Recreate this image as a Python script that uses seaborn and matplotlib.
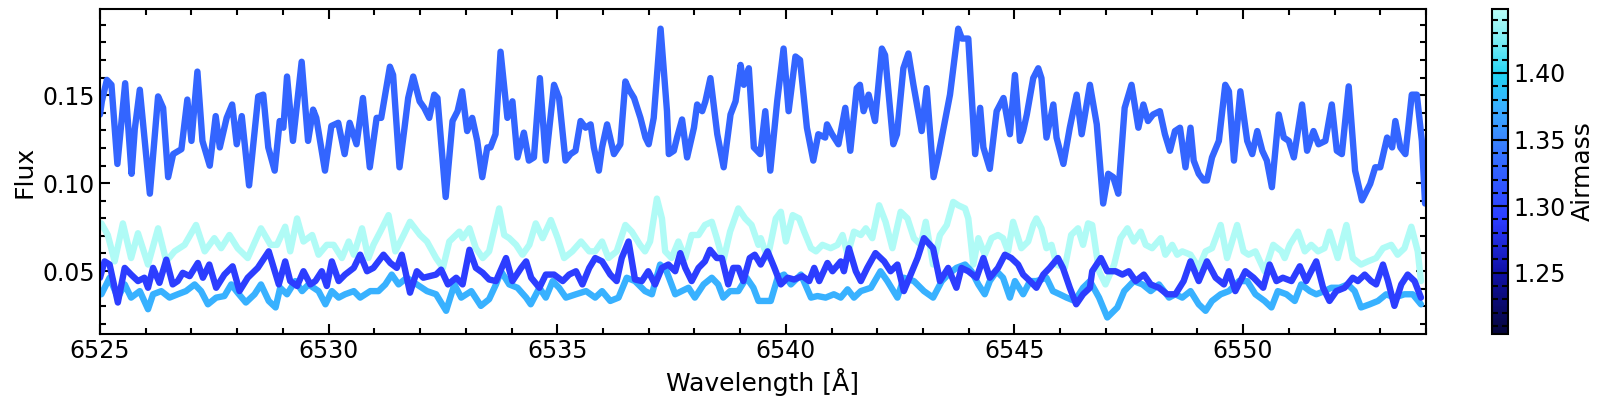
import numpy as np
import pandas as pd
import seaborn as sns
import matplotlib
matplotlib.use("Agg")
import matplotlib.pyplot as plt
from matplotlib.colors import LinearSegmentedColormap, Normalize
from matplotlib.cm import ScalarMappable
from matplotlib.ticker import MultipleLocator

# spectra (wavelength [A], flux)
# bright spectrum, airmass ~1.33
wl_top = [6525.00, 6525.04, 6525.15, 6525.25, 6525.38, 6525.55, 6525.69, 6525.76, 6525.87, 6526.09,
          6526.27, 6526.38, 6526.49, 6526.60, 6526.78, 6526.91, 6527.00, 6527.13, 6527.24, 6527.40,
          6527.53, 6527.62, 6527.77, 6527.89, 6527.99, 6528.10, 6528.26, 6528.46, 6528.57, 6528.68,
          6528.82, 6528.93, 6529.01, 6529.09, 6529.22, 6529.41, 6529.55, 6529.66, 6529.73, 6529.92,
          6530.06, 6530.21, 6530.35, 6530.46, 6530.61, 6530.75, 6530.90, 6531.05, 6531.15, 6531.34,
          6531.41, 6531.55, 6531.66, 6531.74, 6531.85, 6531.99, 6532.09, 6532.20, 6532.31, 6532.38,
          6532.56, 6532.71, 6532.82, 6532.92, 6533.03, 6533.14, 6533.25, 6533.36, 6533.47, 6533.54,
          6533.65, 6533.76, 6533.91, 6534.02, 6534.13, 6534.27, 6534.38, 6534.49, 6534.62, 6534.75,
          6534.93, 6535.04, 6535.18, 6535.29, 6535.40, 6535.51, 6535.62, 6535.73, 6535.80, 6535.91,
          6535.98, 6536.09, 6536.24, 6536.38, 6536.49, 6536.57, 6536.68, 6536.82, 6536.93, 6537.00,
          6537.11, 6537.26, 6537.40, 6537.44, 6537.55, 6537.62, 6537.73, 6537.84, 6537.99, 6538.06,
          6538.17, 6538.24, 6538.35, 6538.50, 6538.64, 6538.79, 6538.90, 6539.01, 6539.08, 6539.19,
          6539.30, 6539.44, 6539.55, 6539.66, 6539.81, 6539.95, 6540.06, 6540.21, 6540.31, 6540.46,
          6540.60, 6540.71, 6540.86, 6540.90, 6541.01, 6541.15, 6541.30, 6541.41, 6541.55, 6541.62,
          6541.70, 6541.81, 6541.95, 6542.10, 6542.17, 6542.35, 6542.43, 6542.57, 6542.68, 6542.79,
          6542.97, 6543.08, 6543.23, 6543.34, 6543.45, 6543.59, 6543.77, 6543.85, 6543.99, 6544.14,
          6544.25, 6544.32, 6544.46, 6544.61, 6544.76, 6544.90, 6545.01, 6545.12, 6545.19, 6545.27,
          6545.41, 6545.52, 6545.59, 6545.70, 6545.85, 6545.92, 6546.07, 6546.21, 6546.36, 6546.47,
          6546.65, 6546.80, 6546.94, 6547.05, 6547.16, 6547.27, 6547.41, 6547.56, 6547.71, 6547.82,
          6547.92, 6548.03, 6548.18, 6548.29, 6548.40, 6548.51, 6548.62, 6548.74, 6548.85, 6548.92,
          6549.03, 6549.14, 6549.21, 6549.32, 6549.47, 6549.61, 6549.69, 6549.80, 6549.94, 6550.09,
          6550.20, 6550.31, 6550.42, 6550.52, 6550.63, 6550.78, 6550.89, 6551.00, 6551.11, 6551.29,
          6551.40, 6551.54, 6551.65, 6551.80, 6551.94, 6552.05, 6552.16, 6552.31, 6552.45, 6552.60,
          6552.78, 6552.89, 6553.00, 6553.15, 6553.26, 6553.33, 6553.44, 6553.55, 6553.69, 6553.80,
          6553.91, 6553.98]
fl_top = [0.1390, 0.1465, 0.1587, 0.1559, 0.1109, 0.1568, 0.1053, 0.1306, 0.1531, 0.0940,
          0.1493, 0.1428, 0.1034, 0.1165, 0.1193, 0.1475, 0.1240, 0.1634, 0.1240, 0.1099,
          0.1381, 0.1203, 0.1371, 0.1447, 0.1221, 0.1381, 0.0987, 0.1493, 0.1503, 0.1203,
          0.1071, 0.1353, 0.1315, 0.1606, 0.1240, 0.1690, 0.1240, 0.1418, 0.1371, 0.1071,
          0.1325, 0.1343, 0.1165, 0.1343, 0.1221, 0.1484, 0.1090, 0.1371, 0.1371, 0.1662,
          0.1615, 0.1090, 0.1315, 0.1484, 0.1606, 0.1465, 0.1428, 0.1371, 0.1503, 0.1484,
          0.0921, 0.1353, 0.1409, 0.1522, 0.1296, 0.1371, 0.1240, 0.1034, 0.1203, 0.1203,
          0.1278, 0.1747, 0.1371, 0.1465, 0.1146, 0.1287, 0.1128, 0.1146, 0.1597, 0.1128,
          0.1559, 0.1484, 0.1128, 0.1165, 0.1184, 0.1353, 0.1315, 0.1334, 0.1203, 0.1071,
          0.1203, 0.1334, 0.1165, 0.1221, 0.1578, 0.1531, 0.1484, 0.1371, 0.1259, 0.1221,
          0.1371, 0.1878, 0.1409, 0.1165, 0.1184, 0.1259, 0.1362, 0.1146, 0.1315, 0.1447,
          0.1409, 0.1465, 0.1597, 0.1278, 0.1090, 0.1390, 0.1465, 0.1672, 0.1559, 0.1653,
          0.1203, 0.1165, 0.1409, 0.1071, 0.1465, 0.1765, 0.1409, 0.1720, 0.1700, 0.1315,
          0.1128, 0.1278, 0.1259, 0.1334, 0.1278, 0.1221, 0.1428, 0.1184, 0.1540, 0.1559,
          0.1409, 0.1503, 0.1353, 0.1765, 0.1728, 0.1221, 0.1278, 0.1653, 0.1737, 0.1559,
          0.1296, 0.1540, 0.1034, 0.1165, 0.1315, 0.1503, 0.1878, 0.1822, 0.1822, 0.1165,
          0.1428, 0.1203, 0.1081, 0.1409, 0.1484, 0.1278, 0.1615, 0.1240, 0.1296, 0.1390,
          0.1597, 0.1653, 0.1597, 0.1259, 0.1447, 0.1259, 0.1109, 0.1315, 0.1503, 0.1278,
          0.1559, 0.1334, 0.0884, 0.1053, 0.1034, 0.0940, 0.1428, 0.1559, 0.1315, 0.1447,
          0.1353, 0.1390, 0.1409, 0.1278, 0.1184, 0.1296, 0.1315, 0.1090, 0.1315, 0.1128,
          0.1053, 0.1015, 0.1015, 0.1146, 0.1240, 0.1559, 0.1522, 0.1128, 0.1522, 0.1240,
          0.1165, 0.1296, 0.1184, 0.1128, 0.0977, 0.1390, 0.1259, 0.1240, 0.1146, 0.1447,
          0.1184, 0.1296, 0.1221, 0.1240, 0.1447, 0.1184, 0.1165, 0.1550, 0.1071, 0.0902,
          0.0996, 0.1090, 0.1090, 0.1259, 0.1203, 0.1353, 0.1203, 0.1165, 0.1503, 0.1503,
          0.1240, 0.0884]

# faint spectrum, airmass ~1.445
wl_cyan = [6525.03, 6525.17, 6525.32, 6525.50, 6525.68, 6525.83, 6526.05, 6526.27, 6526.45, 6526.63,
           6526.85, 6527.10, 6527.29, 6527.50, 6527.65, 6527.83, 6528.01, 6528.23, 6528.52, 6528.73,
           6528.87, 6529.05, 6529.16, 6529.31, 6529.45, 6529.64, 6529.78, 6529.96, 6530.11, 6530.29,
           6530.44, 6530.55, 6530.73, 6530.87, 6530.98, 6531.13, 6531.31, 6531.46, 6531.64, 6531.78,
           6532.00, 6532.15, 6532.35, 6532.50, 6532.64, 6532.86, 6532.93, 6533.08, 6533.22, 6533.37,
           6533.51, 6533.73, 6533.84, 6533.95, 6534.10, 6534.24, 6534.39, 6534.53, 6534.68, 6534.86,
           6535.01, 6535.15, 6535.33, 6535.52, 6535.70, 6535.83, 6535.98, 6536.12, 6536.30, 6536.49,
           6536.63, 6536.81, 6536.92, 6537.03, 6537.18, 6537.29, 6537.36, 6537.50, 6537.65, 6537.80,
           6537.94, 6538.09, 6538.23, 6538.38, 6538.49, 6538.63, 6538.78, 6538.96, 6539.11, 6539.25,
           6539.40, 6539.45, 6539.60, 6539.78, 6539.89, 6540.00, 6540.15, 6540.29, 6540.40, 6540.55,
           6540.66, 6540.80, 6540.98, 6541.13, 6541.24, 6541.35, 6541.49, 6541.64, 6541.75, 6541.89,
           6542.04, 6542.18, 6542.33, 6542.51, 6542.66, 6542.80, 6542.95, 6543.06, 6543.22, 6543.37,
           6543.52, 6543.66, 6543.77, 6543.92, 6543.99, 6544.10, 6544.21, 6544.35, 6544.50, 6544.64,
           6544.75, 6544.86, 6544.97, 6545.15, 6545.30, 6545.41, 6545.48, 6545.59, 6545.70, 6545.81,
           6545.92, 6546.10, 6546.24, 6546.39, 6546.50, 6546.61, 6546.70, 6546.85, 6546.99, 6547.18,
           6547.32, 6547.47, 6547.61, 6547.76, 6547.87, 6548.01, 6548.20, 6548.30, 6548.45, 6548.56,
           6548.67, 6548.85, 6549.03, 6549.18, 6549.32, 6549.51, 6549.65, 6549.87, 6550.01, 6550.12,
           6550.27, 6550.47, 6550.66, 6550.84, 6550.91, 6551.02, 6551.20, 6551.35, 6551.49, 6551.64,
           6551.78, 6551.89, 6552.07, 6552.26, 6552.40, 6552.58, 6552.73, 6552.91, 6553.06, 6553.24,
           6553.38, 6553.53, 6553.68, 6553.82, 6553.89]
fl_cyan = [0.0771, 0.0705, 0.0555, 0.0771, 0.0574, 0.0715, 0.0537, 0.0743, 0.0555, 0.0612,
           0.0649, 0.0762, 0.0612, 0.0687, 0.0630, 0.0705, 0.0630, 0.0574, 0.0743, 0.0649,
           0.0649, 0.0752, 0.0612, 0.0799, 0.0668, 0.0705, 0.0593, 0.0649, 0.0649, 0.0574,
           0.0668, 0.0593, 0.0743, 0.0574, 0.0649, 0.0724, 0.0818, 0.0612, 0.0705, 0.0780,
           0.0705, 0.0668, 0.0574, 0.0518, 0.0668, 0.0724, 0.0687, 0.0743, 0.0630, 0.0574,
           0.0612, 0.0856, 0.0705, 0.0687, 0.0649, 0.0593, 0.0649, 0.0771, 0.0687, 0.0790,
           0.0687, 0.0574, 0.0612, 0.0668, 0.0612, 0.0612, 0.0668, 0.0574, 0.0612, 0.0762,
           0.0724, 0.0649, 0.0612, 0.0668, 0.0912, 0.0799, 0.0612, 0.0574, 0.0668, 0.0574,
           0.0705, 0.0705, 0.0762, 0.0780, 0.0687, 0.0555, 0.0724, 0.0856, 0.0799, 0.0762,
           0.0649, 0.0687, 0.0574, 0.0799, 0.0837, 0.0668, 0.0818, 0.0799, 0.0724, 0.0630,
           0.0612, 0.0649, 0.0630, 0.0649, 0.0705, 0.0593, 0.0724, 0.0705, 0.0743, 0.0687,
           0.0874, 0.0780, 0.0630, 0.0837, 0.0799, 0.0687, 0.0649, 0.0780, 0.0537, 0.0705,
           0.0762, 0.0893, 0.0874, 0.0856, 0.0799, 0.0537, 0.0687, 0.0593, 0.0687, 0.0705,
           0.0687, 0.0612, 0.0780, 0.0630, 0.0668, 0.0762, 0.0799, 0.0743, 0.0630, 0.0649,
           0.0537, 0.0518, 0.0705, 0.0743, 0.0649, 0.0771, 0.0762, 0.0499, 0.0424, 0.0537,
           0.0687, 0.0743, 0.0668, 0.0724, 0.0649, 0.0630, 0.0687, 0.0593, 0.0649, 0.0593,
           0.0612, 0.0593, 0.0518, 0.0612, 0.0630, 0.0762, 0.0574, 0.0762, 0.0612, 0.0593,
           0.0612, 0.0499, 0.0649, 0.0612, 0.0574, 0.0649, 0.0724, 0.0612, 0.0649, 0.0612,
           0.0630, 0.0724, 0.0574, 0.0762, 0.0574, 0.0537, 0.0555, 0.0574, 0.0630, 0.0649,
           0.0593, 0.0630, 0.0752, 0.0612, 0.0443]

# mid-blue spectrum, airmass ~1.375
wl_light = [6525.03, 6525.21, 6525.39, 6525.54, 6525.68, 6525.87, 6526.05, 6526.16, 6526.34, 6526.52,
            6526.70, 6526.88, 6527.07, 6527.21, 6527.36, 6527.54, 6527.72, 6527.87, 6528.01, 6528.19,
            6528.38, 6528.52, 6528.69, 6528.84, 6528.94, 6529.09, 6529.27, 6529.42, 6529.56, 6529.78,
            6529.93, 6530.07, 6530.22, 6530.36, 6530.55, 6530.69, 6530.91, 6531.09, 6531.24, 6531.38,
            6531.53, 6531.71, 6531.93, 6532.15, 6532.35, 6532.57, 6532.75, 6532.90, 6533.12, 6533.33,
            6533.51, 6533.66, 6533.77, 6533.95, 6534.13, 6534.32, 6534.42, 6534.61, 6534.75, 6534.90,
            6535.04, 6535.19, 6535.41, 6535.63, 6535.83, 6535.98, 6536.16, 6536.34, 6536.52, 6536.70,
            6536.92, 6537.07, 6537.25, 6537.39, 6537.58, 6537.72, 6537.87, 6538.01, 6538.20, 6538.38,
            6538.52, 6538.63, 6538.78, 6538.96, 6539.14, 6539.29, 6539.40, 6539.67, 6539.82, 6539.96,
            6540.11, 6540.33, 6540.55, 6540.69, 6540.87, 6541.05, 6541.20, 6541.35, 6541.49, 6541.64,
            6541.86, 6542.07, 6542.22, 6542.44, 6542.58, 6542.80, 6543.02, 6543.22, 6543.41, 6543.55,
            6543.73, 6543.92, 6544.06, 6544.21, 6544.35, 6544.46, 6544.61, 6544.75, 6544.90, 6545.01,
            6545.19, 6545.34, 6545.48, 6545.70, 6545.84, 6545.99, 6546.14, 6546.32, 6546.50, 6546.65,
            6546.85, 6547.03, 6547.25, 6547.40, 6547.61, 6547.80, 6547.98, 6548.16, 6548.38, 6548.52,
            6548.67, 6548.85, 6549.03, 6549.18, 6549.32, 6549.51, 6549.69, 6549.91, 6550.09, 6550.27,
            6550.47, 6550.62, 6550.76, 6550.95, 6551.13, 6551.27, 6551.46, 6551.60, 6551.78, 6551.93,
            6552.11, 6552.29, 6552.44, 6552.58, 6552.77, 6552.95, 6553.13, 6553.31, 6553.53, 6553.71,
            6553.89]
fl_light = [0.0368, 0.0462, 0.0349, 0.0424, 0.0349, 0.0386, 0.0283, 0.0368, 0.0386, 0.0349,
            0.0368, 0.0386, 0.0424, 0.0386, 0.0311, 0.0349, 0.0358, 0.0424, 0.0377, 0.0321,
            0.0368, 0.0424, 0.0330, 0.0293, 0.0405, 0.0368, 0.0443, 0.0386, 0.0424, 0.0386,
            0.0311, 0.0386, 0.0349, 0.0368, 0.0386, 0.0349, 0.0386, 0.0386, 0.0424, 0.0480,
            0.0424, 0.0462, 0.0424, 0.0386, 0.0368, 0.0274, 0.0424, 0.0349, 0.0386, 0.0302,
            0.0340, 0.0424, 0.0499, 0.0424, 0.0405, 0.0349, 0.0311, 0.0405, 0.0349, 0.0443,
            0.0405, 0.0349, 0.0368, 0.0386, 0.0349, 0.0386, 0.0330, 0.0349, 0.0462, 0.0443,
            0.0386, 0.0368, 0.0537, 0.0499, 0.0368, 0.0386, 0.0405, 0.0349, 0.0424, 0.0462,
            0.0424, 0.0349, 0.0386, 0.0386, 0.0462, 0.0405, 0.0330, 0.0330, 0.0462, 0.0480,
            0.0424, 0.0480, 0.0349, 0.0358, 0.0349, 0.0368, 0.0349, 0.0396, 0.0349, 0.0386,
            0.0405, 0.0499, 0.0443, 0.0349, 0.0462, 0.0443, 0.0386, 0.0349, 0.0443, 0.0480,
            0.0518, 0.0537, 0.0499, 0.0424, 0.0368, 0.0443, 0.0499, 0.0462, 0.0349, 0.0443,
            0.0368, 0.0443, 0.0443, 0.0462, 0.0386, 0.0368, 0.0349, 0.0330, 0.0405, 0.0443,
            0.0349, 0.0236, 0.0293, 0.0386, 0.0443, 0.0424, 0.0386, 0.0424, 0.0349, 0.0368,
            0.0349, 0.0386, 0.0311, 0.0274, 0.0330, 0.0368, 0.0386, 0.0443, 0.0443, 0.0368,
            0.0330, 0.0293, 0.0386, 0.0368, 0.0330, 0.0424, 0.0386, 0.0368, 0.0386, 0.0405,
            0.0405, 0.0424, 0.0386, 0.0293, 0.0311, 0.0330, 0.0368, 0.0349, 0.0368, 0.0368,
            0.0311]

# dark spectrum, airmass ~1.29
wl_dark = [6525.00, 6525.10, 6525.21, 6525.39, 6525.54, 6525.68, 6525.83, 6525.97, 6526.05, 6526.16,
           6526.30, 6526.45, 6526.59, 6526.70, 6526.81, 6526.96, 6527.14, 6527.25, 6527.39, 6527.54,
           6527.72, 6527.90, 6528.05, 6528.23, 6528.45, 6528.69, 6528.80, 6528.91, 6529.05, 6529.16,
           6529.31, 6529.45, 6529.60, 6529.71, 6529.85, 6529.96, 6530.07, 6530.22, 6530.36, 6530.55,
           6530.69, 6530.84, 6530.98, 6531.20, 6531.35, 6531.49, 6531.60, 6531.78, 6531.93, 6532.07,
           6532.35, 6532.46, 6532.61, 6532.79, 6532.93, 6533.08, 6533.22, 6533.37, 6533.51, 6533.66,
           6533.88, 6534.02, 6534.21, 6534.32, 6534.43, 6534.61, 6534.75, 6534.93, 6535.12, 6535.26,
           6535.41, 6535.55, 6535.70, 6535.83, 6535.98, 6536.16, 6536.30, 6536.41, 6536.56, 6536.70,
           6536.85, 6536.99, 6537.14, 6537.29, 6537.43, 6537.58, 6537.69, 6537.80, 6537.94, 6538.09,
           6538.23, 6538.34, 6538.49, 6538.60, 6538.74, 6538.85, 6538.96, 6539.07, 6539.21, 6539.32,
           6539.45, 6539.60, 6539.75, 6539.89, 6540.04, 6540.18, 6540.36, 6540.51, 6540.62, 6540.73,
           6540.91, 6541.02, 6541.20, 6541.27, 6541.38, 6541.53, 6541.64, 6541.78, 6541.96, 6542.15,
           6542.29, 6542.44, 6542.58, 6542.73, 6542.88, 6543.02, 6543.22, 6543.37, 6543.55, 6543.73,
           6543.84, 6543.99, 6544.17, 6544.32, 6544.46, 6544.64, 6544.79, 6544.93, 6545.08, 6545.19,
           6545.34, 6545.48, 6545.63, 6545.77, 6545.95, 6546.06, 6546.21, 6546.35, 6546.50, 6546.65,
           6546.70, 6546.89, 6547.03, 6547.21, 6547.36, 6547.50, 6547.65, 6547.83, 6547.98, 6548.16,
           6548.34, 6548.52, 6548.70, 6548.85, 6549.03, 6549.21, 6549.40, 6549.58, 6549.69, 6549.83,
           6550.05, 6550.23, 6550.44, 6550.58, 6550.73, 6550.87, 6551.06, 6551.24, 6551.38, 6551.60,
           6551.75, 6551.89, 6552.04, 6552.22, 6552.40, 6552.51, 6552.66, 6552.80, 6552.91, 6553.06,
           6553.17, 6553.31, 6553.46, 6553.60, 6553.75, 6553.89]
fl_dark = [0.0462, 0.0555, 0.0537, 0.0321, 0.0518, 0.0480, 0.0443, 0.0462, 0.0405, 0.0518,
           0.0433, 0.0565, 0.0424, 0.0443, 0.0490, 0.0471, 0.0546, 0.0462, 0.0537, 0.0405,
           0.0480, 0.0527, 0.0386, 0.0462, 0.0518, 0.0612, 0.0518, 0.0424, 0.0555, 0.0443,
           0.0415, 0.0499, 0.0424, 0.0443, 0.0499, 0.0415, 0.0555, 0.0443, 0.0480, 0.0518,
           0.0593, 0.0499, 0.0518, 0.0593, 0.0546, 0.0518, 0.0593, 0.0377, 0.0499, 0.0462,
           0.0480, 0.0508, 0.0424, 0.0462, 0.0424, 0.0621, 0.0518, 0.0490, 0.0452, 0.0443,
           0.0574, 0.0443, 0.0518, 0.0555, 0.0462, 0.0405, 0.0480, 0.0480, 0.0443, 0.0480,
           0.0499, 0.0424, 0.0518, 0.0574, 0.0555, 0.0480, 0.0443, 0.0574, 0.0668, 0.0452,
           0.0443, 0.0499, 0.0424, 0.0518, 0.0537, 0.0499, 0.0602, 0.0518, 0.0443, 0.0518,
           0.0555, 0.0621, 0.0574, 0.0574, 0.0424, 0.0518, 0.0518, 0.0443, 0.0574, 0.0593,
           0.0537, 0.0612, 0.0518, 0.0424, 0.0462, 0.0452, 0.0471, 0.0443, 0.0518, 0.0443,
           0.0546, 0.0499, 0.0555, 0.0499, 0.0630, 0.0499, 0.0443, 0.0518, 0.0602, 0.0555,
           0.0499, 0.0537, 0.0386, 0.0480, 0.0574, 0.0687, 0.0630, 0.0443, 0.0518, 0.0405,
           0.0518, 0.0499, 0.0462, 0.0574, 0.0462, 0.0518, 0.0593, 0.0574, 0.0537, 0.0480,
           0.0443, 0.0405, 0.0480, 0.0518, 0.0574, 0.0518, 0.0405, 0.0311, 0.0368, 0.0405,
           0.0499, 0.0574, 0.0499, 0.0499, 0.0480, 0.0499, 0.0443, 0.0480, 0.0424, 0.0405,
           0.0368, 0.0368, 0.0443, 0.0555, 0.0443, 0.0555, 0.0462, 0.0424, 0.0499, 0.0386,
           0.0499, 0.0462, 0.0405, 0.0537, 0.0443, 0.0462, 0.0443, 0.0527, 0.0443, 0.0555,
           0.0405, 0.0330, 0.0386, 0.0405, 0.0462, 0.0443, 0.0480, 0.0443, 0.0424, 0.0537,
           0.0443, 0.0302, 0.0424, 0.0480, 0.0443, 0.0349]

labels = ["top", "cyan", "light", "dark"]
airmass = [1.33, 1.445, 1.375, 1.29]
am_min, am_max = 1.204, 1.448

# blue -> cyan colormap used for airmass
cmap = LinearSegmentedColormap.from_list(
    "airmass",
    [(0.0, "#06063a"), (0.19, "#1010a8"), (0.35, "#2c3cff"), (0.52, "#3366ff"),
     (0.60, "#3a86ff"), (0.70, "#38b0ff"), (0.80, "#22d2f2"), (0.90, "#78ecf4"),
     (1.0, "#b8fdf6")])
norm = Normalize(vmin=am_min, vmax=am_max)

spectra = {
    "top": (wl_top, fl_top),
    "cyan": (wl_cyan, fl_cyan),
    "light": (wl_light, fl_light),
    "dark": (wl_dark, fl_dark),
}

plt.rcParams["font.family"] = ["DejaVu Sans"]
fig = plt.figure(figsize=(16.08, 4.11), dpi=100)
ax = fig.add_axes([0.0622, 0.1873, 0.8246, 0.7908])

for name, am in zip(labels, airmass):
    wl, fl = spectra[name]
    df = pd.DataFrame({"wavelength": wl, "flux": fl})
    sns.lineplot(data=df, x="wavelength", y="flux", color=cmap(norm(am)),
                 lw=4.6, estimator=None, ax=ax,
                 solid_joinstyle="round", solid_capstyle="round")

ax.set_xlim(6525, 6554)
ax.set_ylim(0.0142, 0.199)
ax.set_xlabel("Wavelength [Å]", fontsize=18)
ax.set_ylabel("Flux", fontsize=18)
ax.xaxis.set_major_locator(MultipleLocator(5))
ax.xaxis.set_minor_locator(MultipleLocator(1))
ax.yaxis.set_major_locator(MultipleLocator(0.05))
ax.yaxis.set_minor_locator(MultipleLocator(0.01))
ax.tick_params(which="both", direction="in", top=True, right=True, labelsize=17, width=1.5)
ax.tick_params(which="major", length=7)
ax.tick_params(which="minor", length=4)
for sp in ax.spines.values():
    sp.set_linewidth(1.5)

cax = fig.add_axes([0.9277, 0.1873, 0.0103, 0.7908])
cb = fig.colorbar(ScalarMappable(norm=norm, cmap=cmap), cax=cax)
cb.set_label("Airmass", fontsize=18)
cb.outline.set_linewidth(1.5)
cax.yaxis.set_major_locator(MultipleLocator(0.05))
cax.yaxis.set_minor_locator(MultipleLocator(0.01))
cax.tick_params(which="both", direction="in", left=True, right=True, labelsize=17, width=1.5)
cax.tick_params(which="major", length=7)
cax.tick_params(which="minor", length=4)

fig.savefig("out.png", dpi=100)
